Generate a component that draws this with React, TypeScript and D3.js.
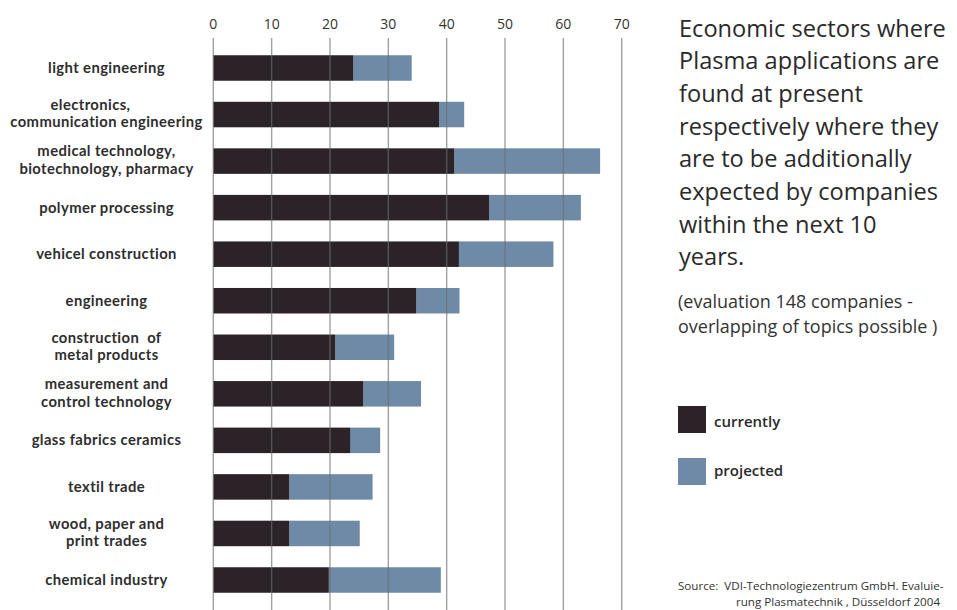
import React from "react";
import * as d3 from "d3";

const categories: string[][] = [
  ["light engineering"],
  ["electronics,\u00A0\u00A0\u00A0\u00A0\u00A0\u00A0\u00A0\u00A0", "communication engineering"],
  ["medical technology,", "biotechnology, pharmacy"],
  ["polymer processing"],
  ["vehicel construction"],
  ["engineering"],
  ["construction  of", "metal products"],
  ["measurement and", "control technology"],
  ["glass fabrics ceramics"],
  ["textil trade"],
  ["wood, paper and", "print trades"],
  ["chemical industry"],
];
const currently: number[] = [24, 38.7, 41.3, 47.3, 42.1, 34.8, 20.9, 25.7, 23.5, 13.0, 13.0, 19.8];
const projected: number[] = [34, 43, 66.3, 63, 58.3, 42.2, 31, 35.6, 28.6, 27.3, 25.1, 39];
const ticks: number[] = [0, 10, 20, 30, 40, 50, 60, 70];
const titleLines: string[] = [
  "Economic sectors where",
  "Plasma applications are",
  "found at present",
  "respectively where they",
  "are to be additionally",
  "expected by companies",
  "within the next 10",
  "years.",
];
const noteLines: string[] = ["(evaluation 148 companies -", "overlapping of topics possible )"];
const legendItems: string[] = ["currently", "projected"];
const sourceLines: string[] = ["Source:  VDI-Technologiezentrum GmbH. Evaluie-", "rung Plasmatechnik , Düsseldorf 2004"];

const W = 957;
const H = 610;
const DARK = "#2b2327";
const BLUE = "#6e8aa7";
const FONT = "'Open Sans', 'Noto Sans', sans-serif";
const LABEL_FONT = "Lato, 'Open Sans', sans-serif";

export default function App() {
  const idx = categories.map((_, i) => String(i));
  const x = d3.scaleLinear().domain([0, 70]).range([213.3, 621.7]);
  const y = d3.scalePoint<string>().domain(idx).range([68, 580]);
  const barH = 25.5;

  return (
    <svg
      width={W}
      height={H}
      style={{ position: "absolute", left: 0, top: 0, background: "#fff" }}
      fontFamily={FONT}
    >
      <rect width={W} height={H} fill="#fff" />
      {ticks.map((t) => (
        <text key={"t" + t} x={x(t)} y={28.5} textAnchor="middle" fontSize={14} fill="#333">
          {t}
        </text>
      ))}
      {idx.map((k, i) => {
        const cy = y(k)!;
        return (
          <g key={"b" + k}>
            <rect x={x(currently[i])} y={cy - barH / 2} width={x(projected[i]) - x(currently[i])} height={barH} fill={BLUE} />
            <rect x={x(0)} y={cy - barH / 2} width={x(currently[i]) - x(0)} height={barH} fill={DARK} />
          </g>
        );
      })}
      {ticks.map((t) => (
        <line key={"g" + t} x1={x(t)} x2={x(t)} y1={38} y2={H} stroke="#6f6f6f" strokeOpacity={0.65} strokeWidth={1.4} />
      ))}
      {idx.map((k, i) => {
        const cy = y(k)!;
        const lines = categories[i];
        const lh = 17.5;
        const start = cy - ((lines.length - 1) * lh) / 2 + 5 - (lines.length > 1 ? 1 : 0);
        return (
          <text key={"l" + k} textAnchor="middle" fontFamily={LABEL_FONT} fontSize={14.8} fontWeight={700} letterSpacing={0.4} fill="#2e2e2e" style={{ whiteSpace: "pre" }}>
            {lines.map((ln, j) => (
              <tspan key={j} x={106.5} y={start + j * lh}>
                {ln}
              </tspan>
            ))}
          </text>
        );
      })}
      <text fontSize={23.6} fill="#2a2a2a">
        {titleLines.map((ln, j) => (
          <tspan key={j} x={679} y={36.5 + j * 32.7}>
            {ln}
          </tspan>
        ))}
      </text>
      <text fontSize={18} fill="#333">
        {noteLines.map((ln, j) => (
          <tspan key={j} x={678} y={308 + j * 25}>
            {ln}
          </tspan>
        ))}
      </text>
      {legendItems.map((ln, j) => (
        <g key={"lg" + j}>
          <rect x={678} y={406 + j * 52} width={28} height={27} fill={j === 0 ? DARK : BLUE} />
          <text x={714} y={427 + j * 49} fontSize={15} fontWeight={600} fill="#2a2a2a">
            {ln}
          </text>
        </g>
      ))}
      <text fontSize={11.6} fill="#333" style={{ whiteSpace: "pre" }}>
        <tspan x={678} y={589.5}>{sourceLines[0]}</tspan>
        <tspan x={736} y={605.5}>{sourceLines[1]}</tspan>
      </text>
    </svg>
  );
}
